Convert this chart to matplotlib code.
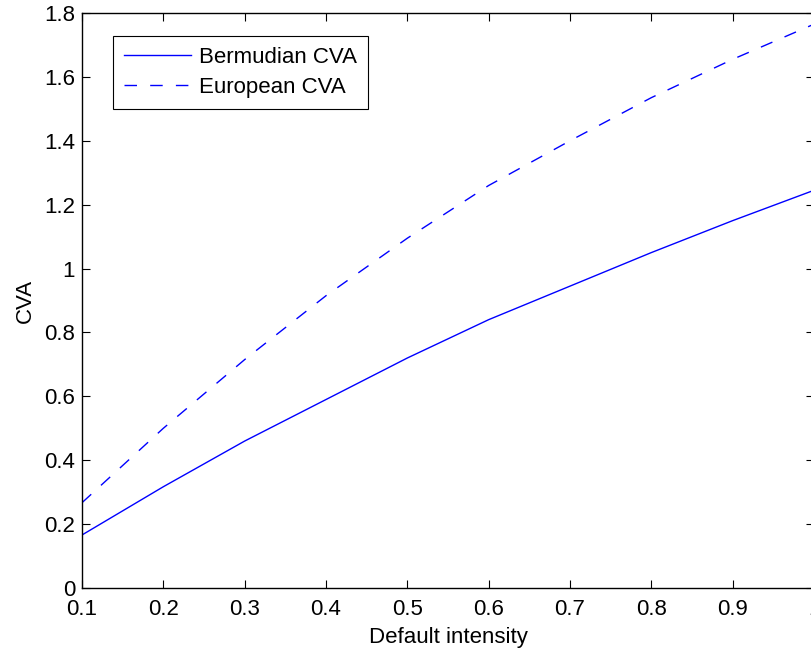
import matplotlib
matplotlib.use("Agg")
import matplotlib.pyplot as plt

# Default intensity grid and CVA values
intensity = [0.1, 0.2, 0.3, 0.4, 0.5, 0.6, 0.7, 0.8, 0.9, 1.0]
bermudian_cva = [0.166, 0.317, 0.460, 0.590, 0.720, 0.840, 0.945, 1.050, 1.150, 1.245]
european_cva = [0.267, 0.500, 0.715, 0.915, 1.095, 1.260, 1.400, 1.535, 1.655, 1.765]

x_ticks = [0.1, 0.2, 0.3, 0.4, 0.5, 0.6, 0.7, 0.8, 0.9, 1.0]
x_tick_labels = ["0.1", "0.2", "0.3", "0.4", "0.5", "0.6", "0.7", "0.8", "0.9", "1"]
y_ticks = [0, 0.2, 0.4, 0.6, 0.8, 1.0, 1.2, 1.4, 1.6, 1.8]
y_tick_labels = ["0", "0.2", "0.4", "0.6", "0.8", "1", "1.2", "1.4", "1.6", "1.8"]

plt.rcParams["font.family"] = ["Liberation Sans", "DejaVu Sans"]
FS = 16

fig = plt.figure(figsize=(8.11, 6.5), dpi=100)
ax = fig.add_axes([82 / 811, 62 / 650, 732 / 811, 575 / 650])

ax.plot(intensity, bermudian_cva, color="#0000ff", lw=1.0, label="Bermudian CVA")
ax.plot(intensity, european_cva, color="#0000ff", lw=1.0, dashes=(9, 9.5),
        label="European CVA")

ax.set_xlim(0.1, 1.0)
ax.set_ylim(0, 1.8)
ax.set_xticks(x_ticks)
ax.set_xticklabels(x_tick_labels)
ax.set_yticks(y_ticks)
ax.set_yticklabels(y_tick_labels)

ax.tick_params(direction="in", length=6, width=0.8, top=True, right=True,
               labelsize=FS, colors="black")
ax.tick_params(axis="x", pad=8)
ax.tick_params(axis="y", pad=5)
for s in ax.spines.values():
    s.set_linewidth(1.0)
    s.set_color("black")

ax.set_xlabel("Default intensity", fontsize=FS, labelpad=5)
ax.set_ylabel("CVA", fontsize=FS, labelpad=6)

leg = ax.legend(loc="upper left", bbox_to_anchor=(31 / 732, 1 - 23 / 575),
                fontsize=FS, frameon=True, fancybox=False, framealpha=1,
                edgecolor="black", handlelength=3.0, handletextpad=0.35,
                borderpad=0.5, labelspacing=0.38, borderaxespad=0)
leg.get_frame().set_linewidth(0.8)

fig.savefig("out.png", dpi=100)
